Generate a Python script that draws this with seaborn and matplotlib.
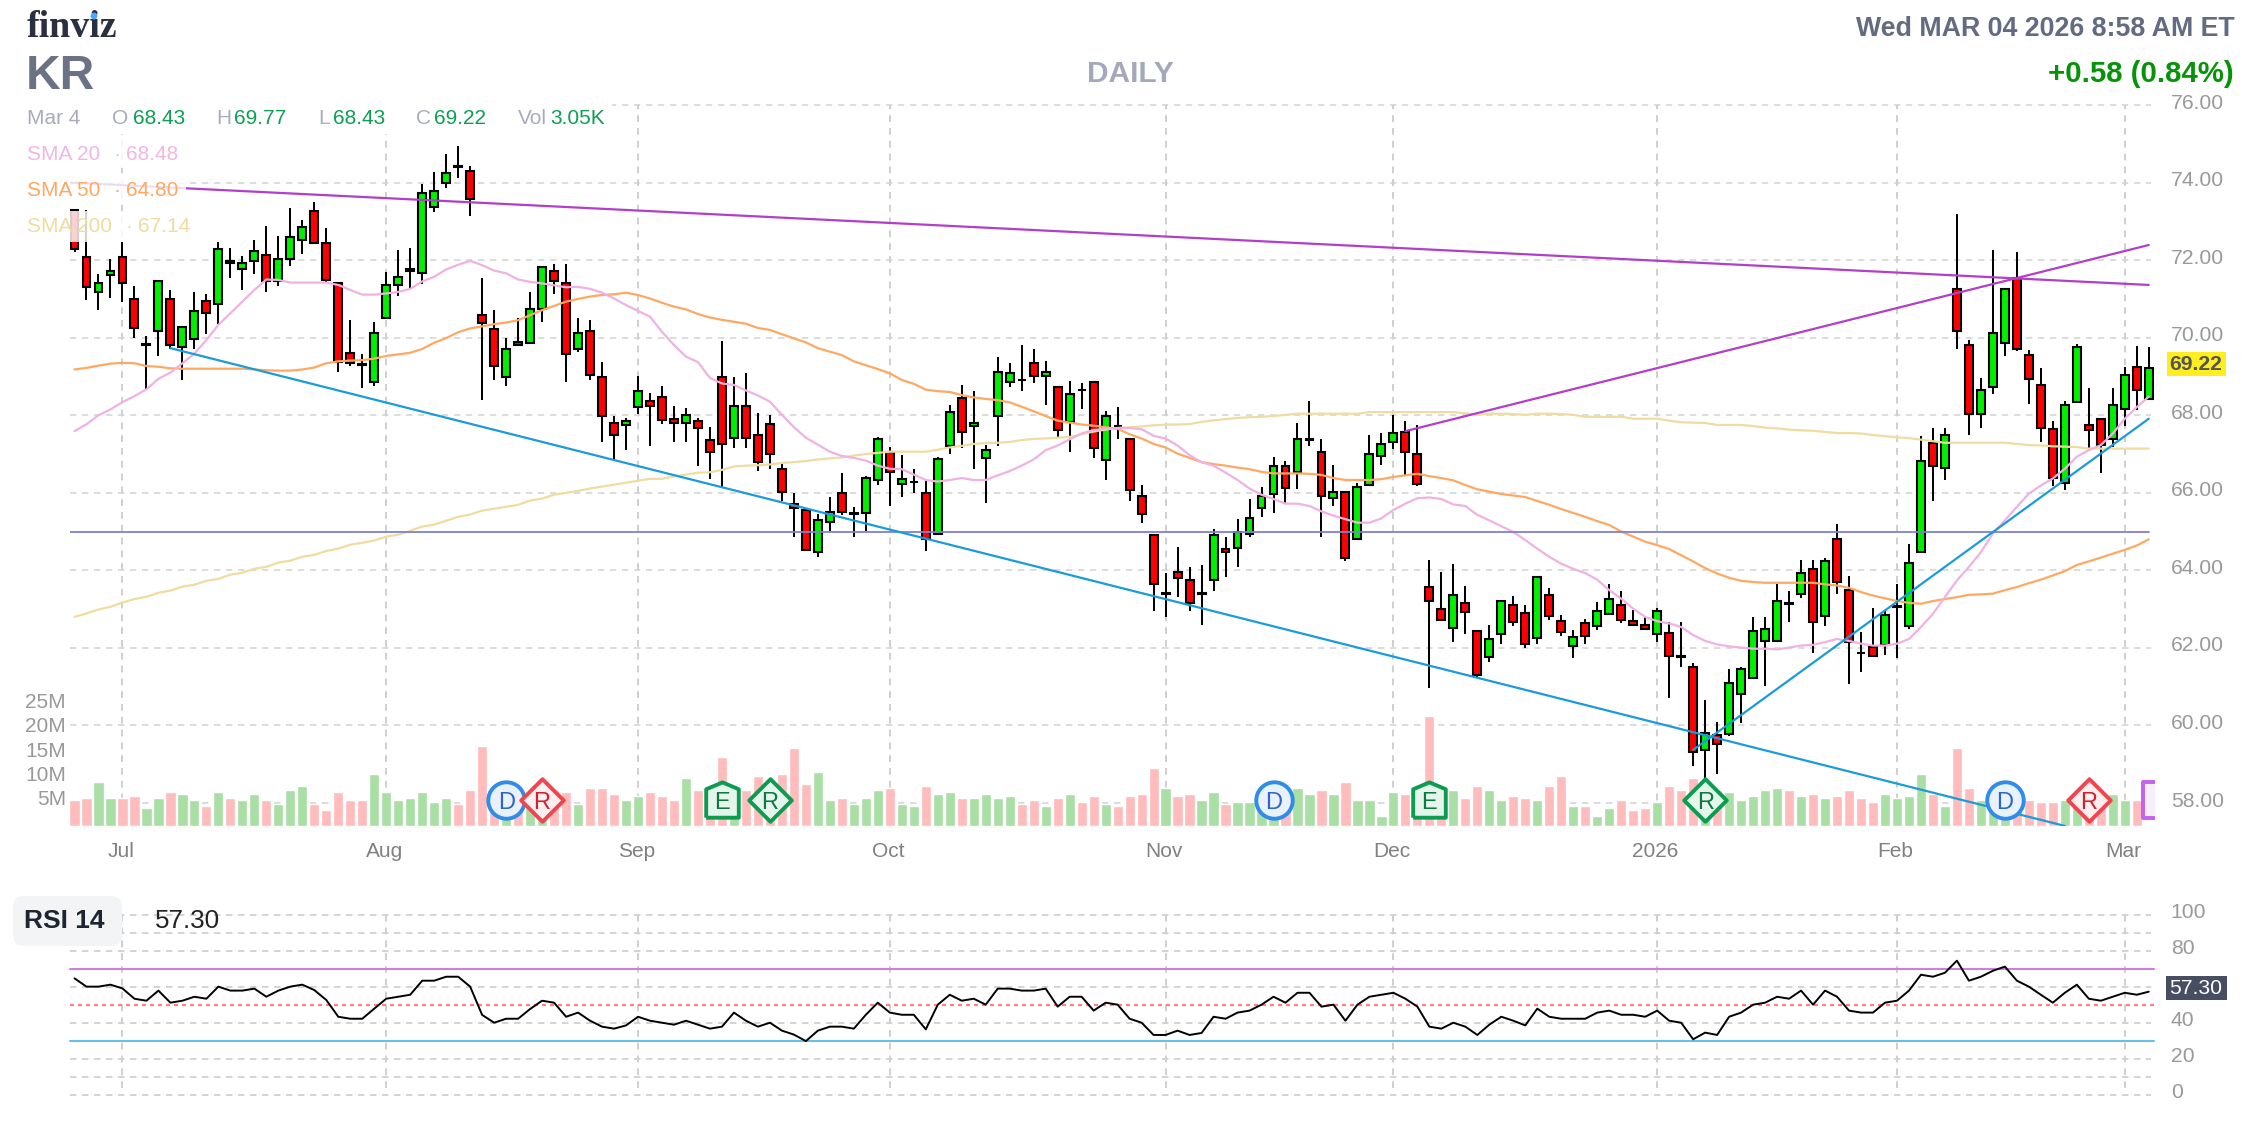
import numpy as np
import pandas as pd
import matplotlib
matplotlib.use("Agg")
import matplotlib.pyplot as plt
import seaborn as sns
from matplotlib.patches import Rectangle, FancyBboxPatch, Circle
from matplotlib.transforms import Affine2D, ScaledTranslation

opens = [73.29,72.09,71.19,71.61,72.09,71.00,69.81,70.16,71.00,69.75,69.96,70.95,70.88,71.98,71.76,71.97,72.14,71.45,72.02,72.53,
         73.27,72.45,71.42,69.61,69.31,68.87,70.52,71.35,71.71,71.66,73.36,73.98,74.42,74.31,70.59,70.23,68.99,69.90,69.85,70.75,
         71.73,71.42,69.70,70.18,68.99,67.81,67.74,68.20,68.37,68.48,67.91,67.79,67.85,67.37,68.98,67.42,68.25,67.48,67.78,66.61,
         65.72,65.56,64.47,65.25,66.00,65.46,65.47,66.34,67.06,66.23,66.27,66.00,64.94,67.20,68.45,67.73,66.90,67.98,68.85,68.92,
         69.34,69.00,68.72,67.83,68.66,68.87,66.84,67.73,67.38,65.92,64.90,63.39,63.97,63.76,63.39,63.75,64.55,64.57,64.93,65.61,
         65.97,66.70,66.53,67.36,67.06,65.86,66.03,64.81,66.20,66.95,67.31,67.57,67.00,63.57,63.00,62.52,63.16,62.44,61.77,62.37,
         63.11,62.90,62.26,63.37,62.69,62.06,62.64,62.57,62.88,63.11,62.69,62.59,62.37,62.38,61.78,61.51,59.37,59.75,59.79,60.82,
         61.23,62.17,62.17,63.15,63.40,64.03,62.83,64.81,63.50,61.88,62.02,62.07,63.05,62.57,64.48,67.29,66.65,71.26,69.82,68.04,
         68.72,69.85,71.54,69.56,68.79,67.65,66.26,68.35,67.75,67.91,67.39,68.16,69.25,68.43]
highs = [73.29,73.29,71.64,72.04,72.46,71.33,70.04,71.49,71.23,70.28,71.18,71.12,72.46,72.31,72.10,72.52,72.88,72.62,73.34,73.03,
         73.50,72.83,71.43,70.45,69.58,70.40,71.69,72.26,72.31,73.96,74.27,74.74,74.94,74.43,71.54,70.71,69.99,70.50,71.18,71.83,
         71.90,71.90,70.50,70.45,69.37,67.98,67.93,69.00,68.58,68.75,68.24,68.18,67.93,67.69,69.91,68.98,69.09,68.05,68.00,66.77,
         65.99,65.57,65.45,65.88,66.52,65.63,66.44,67.44,67.17,66.97,66.61,66.30,66.92,68.27,68.78,68.62,67.22,69.50,69.34,69.81,
         69.70,69.39,68.72,68.89,68.82,68.87,68.11,68.22,67.42,66.19,64.90,63.93,64.60,64.09,64.13,65.07,64.87,65.32,65.85,66.14,
         66.92,66.82,67.80,68.36,67.38,66.71,66.03,66.25,67.50,67.55,68.00,67.86,67.75,64.26,63.95,64.16,63.59,62.44,62.59,63.21,
         63.33,63.11,63.86,63.54,62.85,62.45,62.75,63.18,63.64,63.48,62.97,62.83,63.02,62.66,62.66,61.61,60.65,60.08,61.46,61.51,
         62.80,62.80,63.64,63.48,64.26,64.26,64.31,65.19,63.85,62.40,63.02,62.97,63.64,64.67,67.46,67.66,67.66,73.19,69.94,68.95,
         72.26,71.26,72.21,69.68,69.22,67.85,68.37,69.84,68.70,67.91,68.69,69.25,69.79,69.77]
lows = [72.22,70.97,70.71,71.02,70.93,69.99,68.67,69.53,69.71,68.91,69.72,70.09,70.35,71.54,71.23,71.64,71.18,71.33,71.85,72.16,
        72.43,71.44,69.11,69.27,68.70,68.75,70.52,71.07,71.25,71.38,73.24,73.86,74.12,73.14,68.39,68.91,68.75,69.80,69.85,70.40,
        71.12,68.85,69.63,68.92,67.31,66.84,67.10,68.03,67.20,67.77,67.31,67.31,66.70,66.36,66.15,67.15,67.15,66.57,66.62,65.79,
        64.87,64.50,64.34,65.01,65.43,64.87,65.01,66.21,65.65,65.90,66.00,64.50,64.94,66.99,67.15,66.62,65.74,67.20,68.74,68.63,
        68.83,68.27,67.44,67.04,68.16,66.91,66.32,67.40,65.79,65.23,62.95,62.81,63.31,62.95,62.59,63.46,63.84,64.09,64.87,65.38,
        65.48,65.74,66.10,67.20,64.87,65.65,64.25,64.78,66.17,66.71,67.13,66.44,66.17,60.96,62.73,62.14,62.35,61.24,61.63,62.11,
        62.57,62.00,62.11,62.73,62.32,61.75,62.09,62.47,62.88,62.63,62.57,62.47,62.14,60.70,61.52,58.96,58.58,58.74,59.72,60.07,
        61.23,61.01,62.17,62.66,63.28,61.88,62.56,63.40,61.06,61.37,61.80,61.83,61.73,62.50,64.48,65.80,66.32,69.70,67.48,67.68,
        68.56,69.54,69.65,68.30,67.31,66.17,66.07,68.35,67.15,66.50,67.18,67.71,68.13,68.43]
closes = [72.28,71.30,71.42,71.73,71.40,70.26,69.83,71.47,69.80,70.28,70.69,70.63,72.29,71.92,71.93,72.24,71.45,72.04,72.60,72.86,
          72.43,71.50,69.37,69.35,69.29,70.13,71.37,71.57,71.78,73.74,73.79,74.25,74.40,73.57,70.37,69.28,69.71,69.82,70.75,71.83,
          71.45,69.59,70.13,69.03,67.99,67.48,67.86,68.63,68.25,67.89,67.79,68.01,67.67,67.05,67.26,68.25,67.42,66.79,67.00,66.01,
          65.61,64.53,65.31,65.50,65.50,65.48,66.39,67.38,66.54,66.35,66.29,64.82,66.86,68.09,67.57,67.80,67.11,69.12,69.08,68.90,
          69.01,69.12,67.62,68.56,68.64,67.15,67.99,67.71,66.07,65.45,63.64,63.41,63.80,63.17,63.41,64.90,64.47,65.00,65.36,65.92,
          66.70,66.13,67.38,67.38,65.92,66.03,64.31,66.14,67.00,67.26,67.53,67.06,66.23,63.21,62.73,63.37,62.93,61.29,62.23,63.21,
          62.68,62.11,63.83,62.83,62.42,62.28,62.32,62.96,63.26,62.73,62.60,62.50,62.96,61.80,61.76,59.32,59.80,59.53,61.10,61.46,
          62.44,62.49,63.21,63.13,63.93,62.68,64.24,63.71,62.16,61.86,61.80,62.85,63.07,64.19,66.82,66.70,67.49,70.16,68.04,68.66,
          70.13,71.26,69.70,68.93,67.68,66.39,68.27,69.77,67.63,67.22,68.27,69.05,68.66,69.22]
volume = [5.3,5.8,9.0,5.8,5.8,6.2,3.7,5.8,7.0,6.6,5.3,4.1,7.0,5.8,5.3,6.6,5.3,4.5,7.4,8.2,
          4.5,3.3,7.0,5.3,5.3,10.7,7.0,5.3,5.8,7.0,4.9,5.8,4.5,7.4,16.4,5.3,5.3,5.3,5.3,5.3,
          7.4,7.0,4.5,7.8,7.8,6.6,5.3,6.2,7.0,6.2,5.3,9.9,7.4,5.5,14.1,5.5,7.4,10.3,8.0,10.8,
          16.1,8.7,11.2,5.4,5.8,4.5,5.8,7.4,7.9,4.5,4.1,8.2,6.6,7.0,5.8,5.8,6.6,5.8,6.2,4.5,
          5.4,4.1,5.8,6.6,5.0,6.2,4.5,4.1,6.2,6.6,12.0,7.9,6.2,6.6,5.4,7.0,4.5,5.0,5.0,5.8,
          5.8,5.8,7.9,6.6,7.4,6.6,9.1,5.4,5.4,2.1,7.0,6.6,5.8,22.6,5.8,7.4,5.8,8.2,7.4,5.3,
          6.2,5.8,5.3,8.2,10.3,4.1,4.1,2.1,3.7,5.3,3.3,3.7,4.9,8.2,7.4,9.9,8.1,7.4,7.0,5.3,
          6.2,7.4,7.8,7.4,6.2,6.6,5.8,6.2,7.4,5.8,4.9,6.6,5.8,6.2,10.7,6.6,4.1,16.0,7.8,5.3,
          3.3,3.3,5.3,5.3,4.9,4.9,5.3,5.3,5.3,5.3,6.6,5.3,5.3,0.003]
sma20 = [67.59,67.77,68.00,68.15,68.34,68.49,68.67,68.94,69.10,69.34,69.59,69.94,70.33,70.63,70.93,71.23,71.50,71.49,71.42,71.42,
         71.42,71.42,71.36,71.23,71.11,71.11,71.14,71.18,71.26,71.45,71.57,71.76,71.88,71.98,71.87,71.73,71.66,71.50,71.44,71.40,
         71.35,71.30,71.31,71.26,71.16,71.01,70.84,70.69,70.54,70.15,69.81,69.51,69.37,68.96,68.82,68.78,68.64,68.51,68.35,68.01,
         67.69,67.42,67.24,67.06,66.95,66.90,66.83,66.70,66.62,66.61,66.47,66.33,66.29,66.33,66.38,66.33,66.33,66.45,66.56,66.70,
         66.86,67.10,67.22,67.38,67.53,67.62,67.65,67.67,67.67,67.64,67.47,67.40,67.22,66.97,66.79,66.70,66.52,66.33,66.11,65.95,
         65.84,65.72,65.72,65.66,65.52,65.41,65.32,65.23,65.23,65.34,65.56,65.72,65.86,65.88,65.84,65.70,65.66,65.43,65.29,65.14,
         64.99,64.78,64.56,64.35,64.17,64.04,63.93,63.76,63.49,63.27,63.01,62.80,62.69,62.63,62.54,62.33,62.18,62.09,62.04,62.01,
         61.98,61.98,61.96,62.01,62.06,62.08,62.15,62.23,62.18,62.11,62.06,62.06,62.11,62.23,62.54,62.88,63.31,63.74,64.09,64.47,
         64.95,65.29,65.64,65.98,66.19,66.37,66.62,66.93,67.10,67.23,67.53,67.91,68.21,68.48]
sma50 = [69.18,69.22,69.28,69.33,69.35,69.34,69.27,69.25,69.21,69.20,69.20,69.20,69.20,69.20,69.20,69.18,69.16,69.15,69.15,69.18,
         69.23,69.34,69.39,69.41,69.42,69.46,69.53,69.57,69.61,69.71,69.87,69.99,70.14,70.24,70.29,70.35,70.39,70.45,70.58,70.71,
         70.82,70.93,71.00,71.06,71.10,71.12,71.16,71.10,71.01,70.90,70.80,70.73,70.61,70.52,70.46,70.41,70.36,70.25,70.20,70.09,
         69.98,69.88,69.73,69.64,69.55,69.39,69.29,69.19,69.08,68.91,68.81,68.66,68.62,68.60,68.52,68.46,68.42,68.39,68.33,68.22,
         68.10,67.98,67.86,67.81,67.76,67.73,67.69,67.65,67.51,67.40,67.26,67.17,67.01,66.90,66.79,66.74,66.70,66.65,66.61,66.54,
         66.50,66.50,66.50,66.49,66.46,66.38,66.33,66.33,66.33,66.35,66.41,66.45,66.49,66.43,66.38,66.32,66.20,66.09,66.03,65.97,
         65.93,65.89,65.79,65.69,65.58,65.48,65.38,65.27,65.17,65.00,64.87,64.74,64.65,64.55,64.39,64.23,64.06,63.92,63.81,63.73,
         63.70,63.68,63.68,63.68,63.68,63.68,63.64,63.61,63.55,63.44,63.35,63.28,63.21,63.16,63.14,63.21,63.26,63.31,63.37,63.38,
         63.40,63.49,63.57,63.67,63.76,63.87,63.98,64.14,64.23,64.33,64.43,64.53,64.64,64.80]
sma200 = [62.80,62.89,62.99,63.06,63.17,63.26,63.32,63.42,63.48,63.58,63.63,63.73,63.78,63.89,63.94,64.04,64.09,64.20,64.25,64.35,
          64.40,64.50,64.56,64.66,64.71,64.77,64.87,64.92,65.02,65.13,65.18,65.28,65.38,65.44,65.54,65.59,65.64,65.69,65.80,65.85,
          65.95,66.00,66.05,66.11,66.16,66.21,66.26,66.31,66.36,66.36,66.42,66.47,66.52,66.53,66.59,66.68,66.70,66.71,66.73,66.77,
          66.79,66.82,66.86,66.89,66.91,66.96,67.00,67.03,67.06,67.06,67.06,67.06,67.11,67.17,67.21,67.26,67.28,67.29,67.31,67.36,
          67.39,67.40,67.42,67.44,67.51,67.58,67.63,67.67,67.69,67.71,67.74,67.76,67.76,67.77,67.83,67.87,67.90,67.93,67.95,67.96,
          67.98,68.01,68.04,68.04,68.04,68.04,68.04,68.04,68.08,68.08,68.08,68.08,68.08,68.08,68.08,68.08,68.05,68.01,68.04,68.04,
          68.03,68.01,68.04,68.04,68.03,68.01,67.96,67.96,67.96,67.96,67.91,67.91,67.91,67.86,67.82,67.81,67.80,67.75,67.75,67.75,
          67.72,67.68,67.66,67.63,67.61,67.60,67.57,67.54,67.54,67.53,67.49,67.46,67.43,67.41,67.37,67.33,67.29,67.29,67.29,67.29,
          67.29,67.29,67.26,67.23,67.22,67.20,67.19,67.18,67.14,67.14,67.14,67.14,67.14,67.14]
rsi = [64.7,60.1,60.1,61.2,59.1,53.4,52.3,57.9,51.2,52.3,54.5,53.4,60.1,57.9,57.9,59.0,54.5,57.9,60.1,61.2,
       58.2,52.7,43.4,42.3,42.3,47.9,53.4,54.5,55.6,63.4,63.4,65.6,65.6,60.1,44.4,40.1,42.3,42.3,47.7,52.3,
       51.2,43.4,45.7,41.2,37.9,36.8,38.6,43.4,41.2,40.1,39.0,41.2,39.0,36.8,37.9,45.7,41.2,37.9,40.1,35.7,
       33.5,29.9,35.7,37.9,37.9,36.8,44.5,51.2,45.7,44.5,44.5,36.4,50.1,55.6,52.3,53.4,50.1,59.0,59.0,57.9,
       57.9,59.0,49.0,54.5,54.5,46.8,51.2,50.1,42.3,40.1,33.3,33.3,35.7,33.3,34.4,43.4,42.3,45.7,46.8,50.1,
       54.5,51.2,56.7,56.7,49.0,50.1,41.2,50.1,54.5,55.6,56.7,53.4,49.0,37.9,36.8,40.1,37.9,33.3,39.0,43.4,
       41.2,38.6,47.9,43.4,42.3,42.3,42.3,45.7,46.8,44.5,44.5,43.4,46.8,41.2,40.1,30.9,34.6,33.3,43.4,45.7,
       50.1,51.2,54.5,53.4,57.9,50.1,57.9,54.5,46.8,45.7,45.7,51.2,52.3,57.9,66.7,65.6,67.8,74.5,63.4,65.6,
       68.9,71.2,63.4,60.1,55.6,51.2,56.7,61.2,53.4,52.3,54.5,56.7,55.6,57.3]

month_pos = [4, 26, 47, 68, 91, 110, 132, 152, 171]
month_labels = ["Jul", "Aug", "Sep", "Oct", "Nov", "Dec", "2026", "Feb", "Mar"]
price_ticks = [58, 60, 62, 64, 66, 68, 70, 72, 74, 76]
vol_ticks = [5, 10, 15, 20, 25]
rsi_ticks = [0, 20, 40, 80, 100]
rsi_grid = [0, 10, 20, 40, 60, 80, 90, 100]
# trend lines: (start bar, start price, end bar, end price)
purple_lines = [(-0.4, 74.0, 173, 71.36), (111, 67.59, 173, 72.39)]
blue_lines = [(8, 69.73, 166, 57.41), (135, 59.37, 173, 67.91)]
level_price = 65.0
events = [(36, "D"), (39, "R"), (54, "E"), (58, "R"), (100, "D"), (113, "E"), (136, "R"), (161, "D"), (168, "R")]

W, H = 2260, 1124
sns.set_theme(style="white")
plt.rcParams["font.family"] = ["Liberation Sans", "DejaVu Sans"]
fig = plt.figure(figsize=(W / 100, H / 100), dpi=100, facecolor="white")
px = Affine2D().scale(1, -1).translate(0, H)

LEFT, RIGHT, TOP, BOTTOM = 70, 2154, 105, 826
PX_PER_DOLLAR = 38.78
PX_PER_5M = 24.3
xlim = ((LEFT - 74.5) / 11.99, (RIGHT - 74.5) / 11.99)
ylim = (76 - (BOTTOM - TOP) / PX_PER_DOLLAR, 76)
rect = [LEFT / W, 1 - BOTTOM / H, (RIGHT - LEFT) / W, (BOTTOM - TOP) / H]

idx = np.arange(len(opens))
up = np.array(closes) >= np.array(opens)
GREY_TXT = "#999999"
H_DASH = (0, (3.2, 2.8))
V_DASH = (0, (3.4, 3.0))

# base axes only holds the grid, volume goes on top of it, price on top of that
ax = fig.add_axes(rect)
ax_vol = ax.twinx()
ax_price = ax.twinx()
for a, z in [(ax, 1), (ax_vol, 2), (ax_price, 3)]:
    a.set_zorder(z)
    a.patch.set_visible(False)
    sns.despine(ax=a, left=True, bottom=True, right=True, top=True)
ax.set_ylim(ylim)
ax_price.set_ylim(ylim)
ax.hlines(price_ticks, xlim[0], 173.2, color="#dcdcdc", lw=1.44, linestyle=H_DASH, clip_on=False)
ax.vlines(month_pos, ylim[0], 76, color="#d0d0d0", lw=1.44, linestyle=V_DASH, clip_on=False)

df = pd.DataFrame({"bar": idx, "vol": volume, "up": up})
sns.barplot(data=df, x="bar", y="vol", hue="up", hue_order=[True, False],
            palette=["#a9dfa5", "#ffbcbc"], dodge=False, native_scale=True,
            width=0.85, saturation=1, legend=False, ax=ax_vol)
ax_vol.set_ylim(0, (BOTTOM - TOP) / PX_PER_5M * 5)
ax_vol.set_xlabel("")
ax_vol.set_ylabel("")
ax_vol.yaxis.tick_left()
ax_vol.set_yticks(vol_ticks, [f"{v}M" for v in vol_ticks], color=GREY_TXT, fontsize=15)
ax_vol.tick_params(axis="y", length=0, pad=3, left=False, right=False)

# candles
ax_price.vlines(idx, lows, highs, color="black", lw=1.44, zorder=3)
body_bottom = np.minimum(opens, closes)
body_height = np.abs(np.array(opens) - np.array(closes))
ax_price.bar(idx, body_height, bottom=body_bottom, width=0.66,
             color=["#00f000" if u else "#ff0000" for u in up],
             edgecolor="black", linewidth=1.5, zorder=4)

# moving averages and trend lines
for series, col in [(sma200, "#f0dca0"), (sma50, "#ffa862"), (sma20, "#efb2e2")]:
    sns.lineplot(x=idx, y=series, color=col, lw=1.6, ax=ax_price, zorder=5, errorbar=None)
ax_price.plot([xlim[0], 173], [level_price, level_price], color="#8080d2", lw=1.3, zorder=5)
for x0, y0, x1, y1 in purple_lines:
    sns.lineplot(x=[x0, x1], y=[y0, y1], color="#b23fca", lw=1.6, ax=ax_price, zorder=6, errorbar=None)
for x0, y0, x1, y1 in blue_lines:
    sns.lineplot(x=[x0, x1], y=[y0, y1], color="#1a9bdc", lw=1.6, ax=ax_price, zorder=6, errorbar=None)

# event badges
badge_y = 76 - (800 - TOP) / PX_PER_DOLLAR
house = [(-0.9, -0.95), (0.9, -0.95), (0.9, 0.62), (0.0, 1.0), (-0.9, 0.62), (-0.9, -0.95)]
badge_style = {
    "D": dict(marker="o", s=690, edgecolor="#2f8ce8", facecolor="#e8f1fc", txt="#2b66c8"),
    "R": dict(marker="D", s=470, edgecolor="#f2444e", facecolor="#fdeeef", txt="#d41f2c"),
    "E": dict(marker=house, s=680, edgecolor="#0b9c50", facecolor="#e6f5ec", txt="#0a7a40"),
}
green_r = {58, 136}
for pos, kind in events:
    st = dict(badge_style[kind])
    if pos in green_r:
        st["edgecolor"], st["facecolor"], st["txt"] = "#0b9c50", "#e6f5ec", "#0a7a40"
    ax_price.scatter([pos], [badge_y], marker=st["marker"], s=st["s"], facecolor=st["facecolor"],
                     edgecolor=st["edgecolor"], linewidth=2.8, zorder=8)
    ax_price.text(pos, badge_y, kind, color=st["txt"], fontsize=17, ha="center", va="center_baseline", zorder=9)
ax_price.scatter([174], [badge_y], marker="s", s=640, facecolor="#f6effd", edgecolor="#c861f0",
                 linewidth=2.8, zorder=8)

ax_price.set_xlabel("")
ax_price.set_ylabel("")
ax_price.set_yticks(price_ticks, [f"{p:.2f}" for p in price_ticks], color=GREY_TXT, fontsize=15.2)
ax_price.tick_params(axis="y", length=0, pad=12, left=False, right=False)
shift = ScaledTranslation(0, 4 / 100, fig.dpi_scale_trans)
for lab in ax_price.get_yticklabels() + ax_vol.get_yticklabels():
    lab.set_transform(lab.get_transform() + shift)
ax.set_yticks([])
ax.set_xticks(month_pos, month_labels, color="#808080", fontsize=15)
ax.tick_params(axis="x", length=0, pad=11.5)
for lab in ax.get_xticklabels():
    lab.set_transform(lab.get_transform() + ScaledTranslation(-1.5 / 100, 0, fig.dpi_scale_trans))
ax.set_xlim(xlim)

# RSI panel
ax_rsi = fig.add_axes([LEFT / W, 1 - 1095 / H, (RIGHT - LEFT) / W, 180.3 / H])
sns.despine(ax=ax_rsi, left=True, bottom=True, right=True, top=True)
ax_rsi.patch.set_visible(False)
ax_rsi.hlines(rsi_grid, xlim[0], 173.2, color="#d4d4d4", lw=1.44, linestyle=H_DASH, clip_on=False)
ax_rsi.vlines(month_pos, 4, 100, color="#d0d0d0", lw=1.44, linestyle=V_DASH)
ax_rsi.axhline(70, color="#cc80dc", lw=1.5, zorder=3, clip_on=False)
ax_rsi.axhline(30, color="#68bfe8", lw=1.5, zorder=3, clip_on=False)
ax_rsi.axhline(50, color="#ff8080", lw=1.6, linestyle=(0, (1.8, 1.8)), zorder=3)
sns.lineplot(x=idx, y=rsi, color="black", lw=1.4, ax=ax_rsi, zorder=4, errorbar=None)
ax_rsi.set_xlim(xlim)
ax_rsi.set_ylim(0, 100)
ax_rsi.set_xticks([])
ax_rsi.set_xlabel("")
ax_rsi.set_ylabel("")
ax_rsi.yaxis.tick_right()
ax_rsi.set_yticks(rsi_ticks, [str(t) for t in rsi_ticks], color=GREY_TXT, fontsize=15.2)
ax_rsi.tick_params(axis="y", length=0, pad=12, left=False, right=False)
for lab in ax_rsi.get_yticklabels():
    lab.set_transform(lab.get_transform() + shift)


def label(x, y, s, **kw):
    kw.setdefault("zorder", 12)
    kw.setdefault("va", "center")
    return fig.text(x, y + 1.5, s, transform=px, **kw)


def box(x0, y0, x1, y1, color, alpha=1.0, z=10):
    fig.add_artist(Rectangle((x0, y0), x1 - x0, y1 - y0, transform=px, facecolor=color,
                             edgecolor="none", alpha=alpha, zorder=z))


# header
label(27, 26, "finviz", fontsize=27.4, family="Liberation Serif", fontweight="bold", color="#2b3040")
fig.add_artist(Circle((94, 16), 3.4, transform=px, facecolor="#4aa8ff", edgecolor="none", zorder=13))
label(26, 75, "KR", fontsize=34.5, fontweight="bold", color="#6b7285")
label(1130, 72, "DAILY", fontsize=21.5, fontweight="bold", color="#a3a9ba", ha="center")
label(2235, 28, "Wed MAR 04 2026 8:58 AM ET", fontsize=19.3, fontweight="bold", color="#626b82", ha="right")
label(2234, 73, "+0.58 (0.84%)", fontsize=21.2, fontweight="bold", color="#079307", ha="right")

# legend rows, semi transparent over the chart
box(20, 100, 612, 134, "white")
box(20, 140, 186, 168, "white", 0.82)
box(20, 175, 186, 204, "white", 0.82)
box(20, 211, 198, 242, "white", 0.82)
GREY_LAB, GREEN_LAB = "#a7adbd", "#0c9f52"
label(27, 117, "Mar 4", fontsize=15, color=GREY_LAB)
for x_name, name, x_val, val in [(112, "O", 132.5, "68.43"), (216, "H", 234, "69.77"), (318, "L", 332.5, "68.43"),
                                 (416, "C", 434, "69.22"), (518, "Vol", 550, "3.05K")]:
    label(x_name, 117, name, fontsize=15, color=GREY_LAB)
    label(x_val, 117, val, fontsize=15, color=GREEN_LAB)
for y, name, val, col, x_dot, x_val in [(153, "SMA 20", "68.48", "#f2b6e3", 113, 126),
                                        (189, "SMA 50", "64.80", "#ffa860", 113, 126),
                                        (225, "SMA 200", "67.14", "#f0dca0", 125, 138)]:
    label(27, y, name, fontsize=15, color=col)
    label(x_dot, y, "·", fontsize=15, color=col)
    label(x_val, y, val, fontsize=15, color=col)

# last price tags
box(2167, 352, 2225.5, 376, "#ffee1f")
label(2196, 363, "69.22", fontsize=15.2, fontweight="bold", color="#555555", ha="center")
box(2166, 976, 2226.5, 1000, "#474e62")
label(2196, 987, "57.30", fontsize=15.2, color="white", ha="center")

# RSI badge
fig.add_artist(FancyBboxPatch((13, 896), 109, 50, boxstyle="round,pad=0,rounding_size=11", transform=px,
                              facecolor="#f3f4f6", edgecolor="none", zorder=10))
label(24.5, 920, "RSI 14", fontsize=19, fontweight="bold", color="#1e2430")
label(155, 920, "57.30", fontsize=18.7, color="#222222")

fig.savefig("out.png", dpi=100, facecolor="white")
